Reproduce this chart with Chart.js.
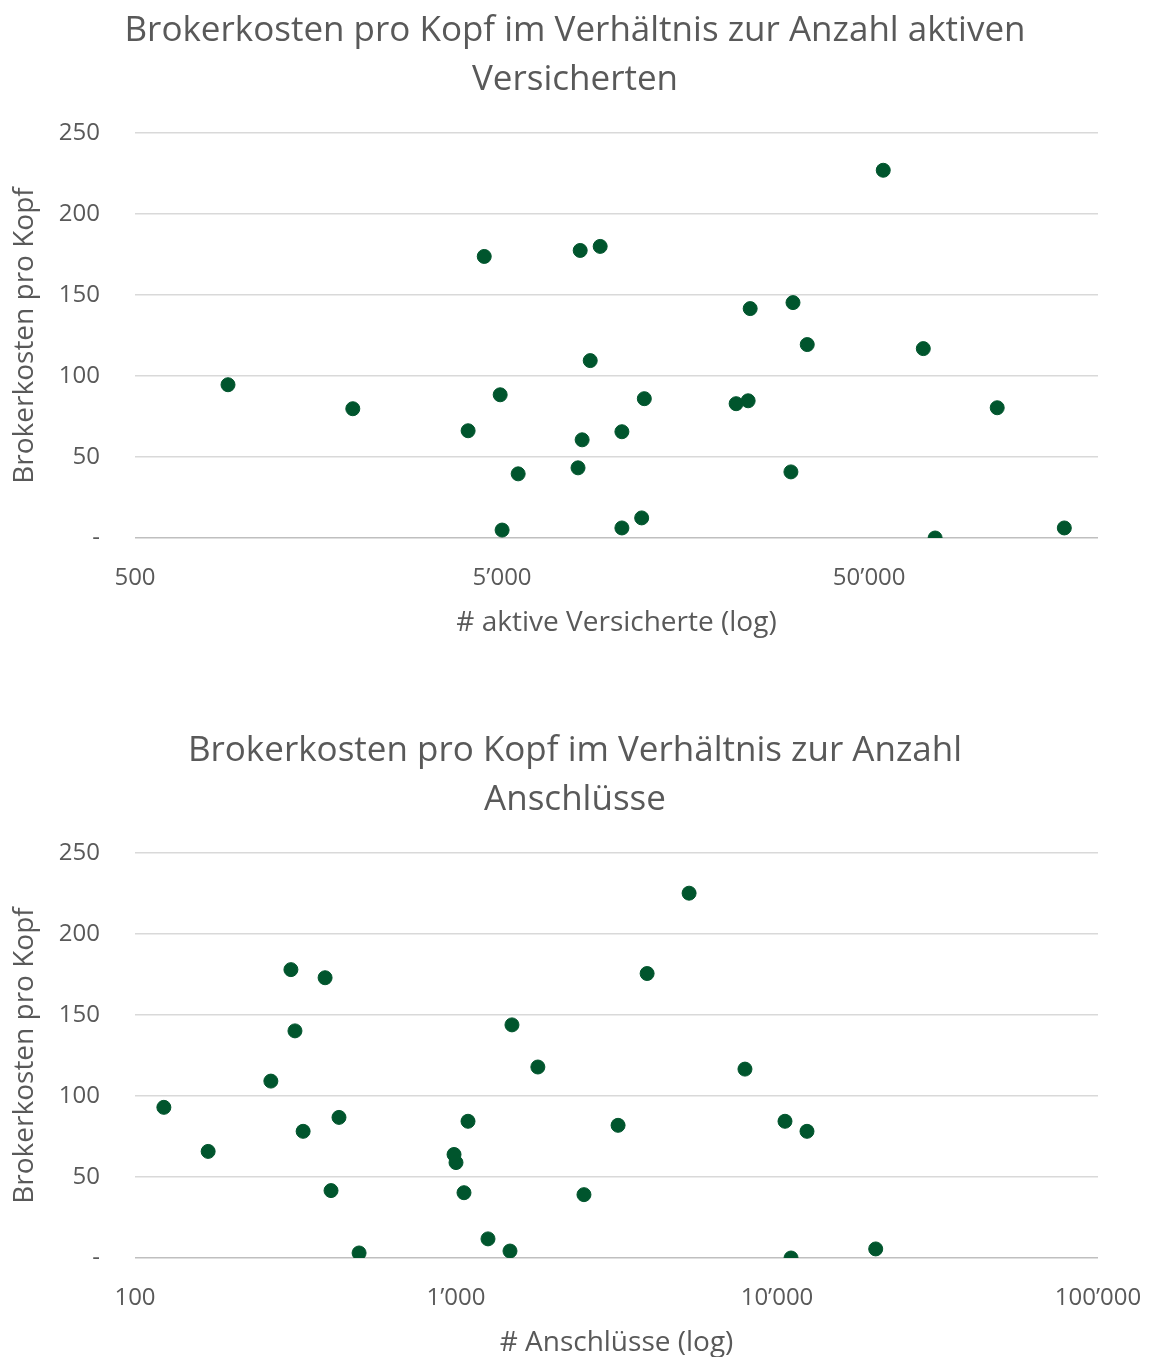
<!DOCTYPE html>
<html>
<head>
<meta charset="utf-8">
<script src="https://cdn.jsdelivr.net/npm/chart.js@4.4.1/dist/chart.umd.min.js"></script>
<style>
  html, body { margin: 0; padding: 0; background: #fff; overflow: hidden; }
  .box { position: absolute; left: 0; width: 1150px; height: 690px; }
  #box1 { top: 0; }
  #box2 { top: 720px; }
</style>
</head>
<body>
<div class="box" id="box1"><canvas id="chart1"></canvas></div>
<div class="box" id="box2"><canvas id="chart2"></canvas></div>
<script>
// titles and axis labels
const titleTop = ['Brokerkosten pro Kopf im Verhältnis zur Anzahl aktiven', 'Versicherten'];
const titleBottom = ['Brokerkosten pro Kopf im Verhältnis zur Anzahl', 'Anschlüsse'];
const yAxisTitle = 'Brokerkosten pro Kopf';
const xTitleTop = '# aktive Versicherte (log)';
const xTitleBottom = '# Anschlüsse (log)';

// tick values
const yTicks = [0, 50, 100, 150, 200, 250];
const xTicksTop = [500, 5000, 50000];
const xTicksBottom = [100, 1000, 10000, 100000];

// top chart: active insured vs broker cost per head
const versicherte = [896, 1960, 4040, 4470, 4940, 5000, 5530, 8050, 8160, 8260, 8690, 9250, 10600, 10600, 12000, 12200,
  21700, 23400, 23700, 30600, 31000, 33900, 54600, 70200, 75600, 111600, 170000];
const kostenTop = [94.6, 79.8, 66.2, 173.8, 88.4, 4.9, 39.6, 43.3, 177.5, 60.6, 109.5, 180, 65.6, 6.2, 12.4, 86,
  82.9, 84.7, 141.6, 40.8, 145.3, 119.4, 227, 116.9, 0, 80.4, 6.2];

// bottom chart: number of affiliations vs broker cost per head
const anschluesse = [123, 169, 265, 306, 315, 334, 391, 408, 432, 499, 986, 1000, 1059, 1090, 1258, 1473, 1494,
  1799, 2504, 3198, 3939, 5323, 7947, 10590, 11060, 12400, 20300];
const kostenBottom = [93, 65.8, 109.2, 178, 140.2, 78.2, 173, 41.6, 86.8, 3.1, 63.9, 58.9, 40.3, 84.4, 11.8, 4.3, 143.9,
  117.9, 39.1, 81.9, 175.6, 225.2, 116.6, 84.4, 0, 78.2, 5.6];

const green = '#00552d';
const textColor = '#595959';
const family = "'Open Sans', 'Noto Sans', sans-serif";

function fmt(v) {
  return String(v).replace(/\B(?=(\d{3})+(?!\d))/g, '\u2019');
}

function makeChart(id, title, xTitle, xs, ys, xMin, xMax, xTicks) {
  const ctx = document.getElementById(id).getContext('2d');
  return new Chart(ctx, {
    type: 'scatter',
    data: {
      datasets: [{
        data: xs.map((x, i) => ({ x: x, y: ys[i] })),
        backgroundColor: green,
        borderColor: green,
        pointRadius: 7,
        pointHoverRadius: 7
      }]
    },
    options: {
      responsive: true,
      maintainAspectRatio: false,
      animation: false,
      layout: { padding: { left: 0, right: 0, top: 0, bottom: 10 } },
      plugins: {
        legend: { display: false },
        tooltip: { enabled: false },
        title: {
          display: true,
          text: title,
          color: textColor,
          font: { family: family, size: 35, weight: 'normal', lineHeight: 1.4 },
          padding: { top: 7, bottom: 28 }
        }
      },
      scales: {
        x: {
          type: 'logarithmic',
          min: xMin,
          max: xMax,
          afterBuildTicks: s => { s.ticks = xTicks.map(v => ({ value: v })); },
          afterFit: s => { s.height = 142; },
          grid: { display: true, drawOnChartArea: false, drawTicks: true, tickLength: 26, tickColor: 'rgba(0,0,0,0)' },
          border: { display: false },
          ticks: {
            color: textColor,
            font: { family: family, size: 24 },
            padding: 0,
            maxRotation: 0,
            autoSkip: false,
            callback: v => fmt(v)
          },
          title: {
            display: true,
            text: xTitle,
            color: textColor,
            font: { family: family, size: 28 },
            padding: { top: 0, bottom: 40 }
          }
        },
        y: {
          min: 0,
          max: 250,
          afterBuildTicks: s => { s.ticks = yTicks.map(v => ({ value: v })); },
          afterFit: s => { s.width = 135; },
          grid: {
            color: c => (c.tick && c.tick.value === 0) ? '#bfbfbf' : '#d9d9d9',
            lineWidth: 1.5,
            drawTicks: false
          },
          border: { display: false },
          ticks: {
            color: textColor,
            font: { family: family, size: 24 },
            padding: 35,
            callback: v => v === 0 ? '-' : v
          },
          title: {
            display: true,
            text: yAxisTitle,
            color: textColor,
            font: { family: family, size: 28 },
            padding: { top: 8, bottom: 0 }
          }
        },
        // empty right-hand axis keeps the plot clear of the right edge
        yRight: {
          position: 'right',
          min: 0,
          max: 250,
          afterFit: s => { s.width = 52; },
          grid: { display: false, drawTicks: false },
          border: { display: false },
          ticks: { display: false }
        }
      }
    }
  });
}

makeChart('chart1', titleTop, xTitleTop, versicherte, kostenTop, 500, 210000, xTicksTop);
makeChart('chart2', titleBottom, xTitleBottom, anschluesse, kostenBottom, 100, 100000, xTicksBottom);
</script>
</body>
</html>
